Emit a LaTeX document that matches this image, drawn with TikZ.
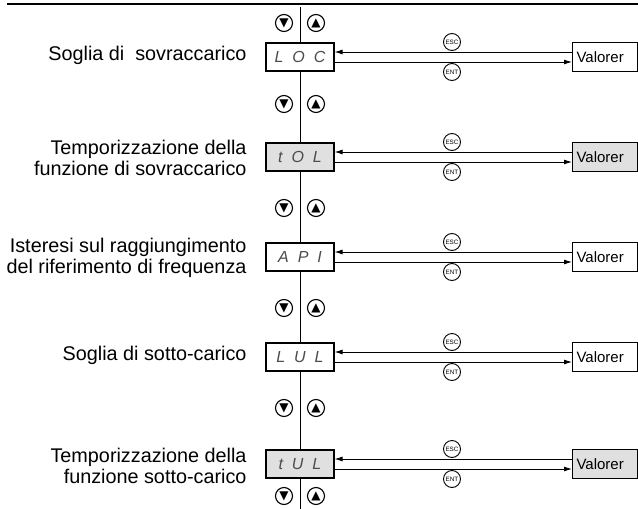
\documentclass[tikz,border=0pt]{standalone}
\usepackage{fontspec}
\setmainfont{Liberation Sans}
\newfontfamily\segfont{Liberation Sans}
\newfontfamily\symfont{DejaVu Sans}
\usetikzlibrary{arrows.meta, positioning}

\begin{document}
\begin{tikzpicture}[x=1pt, y=-1pt,
    disp/.style={rectangle, draw, line width=1.1pt, fill=white,
                 minimum width=68pt, minimum height=28pt, inner sep=0pt,
                 font=\segfont\itshape\fontsize{16}{16}\selectfont, text=black!70},
    dispg/.style={disp, fill=black!12},
    val/.style={rectangle, draw, line width=1.1pt, fill=white, anchor=west,
                minimum width=65pt, minimum height=29pt, inner xsep=4pt, inner ysep=0pt,
                text width=57pt, align=left, font=\fontsize{15}{15}\selectfont},
    valg/.style={val, fill=black!12},
    lbl/.style={anchor=east, align=right, font=\fontsize{19.8}{21}\selectfont},
    btn/.style={circle, draw, line width=1.1pt, minimum size=17pt, inner sep=0pt,
                font=\symfont\fontsize{12}{12}\selectfont},
    key/.style={circle, draw, line width=0.9pt, minimum size=17pt, inner sep=0pt,
                font=\fontsize{6.3}{6.3}\selectfont},
    arr/.style={-{Latex[length=8pt, width=5pt]}, line width=0.9pt}]

    \useasboundingbox (0,0) rectangle (638,509);

    % top rule and menu spine
    \coordinate (rl) at (7,4);  \coordinate (rr) at (638,4);
    \draw[line width=2.5pt] (rl) -- (rr);
    \coordinate (top) at (300,7); \coordinate (bot) at (300,509);
    \draw[line width=1pt] (top) -- (bot);

    % parameter displays
    \node[disp]  (d1) at (300,57)  {L\ \ O\ \ C};
    \node[dispg] (d2) at (300,157) {t\ \ O\ \ L};
    \node[disp]  (d3) at (300,257) {A\ \ P\ \ I};
    \node[disp]  (d4) at (300,357) {L\ \ U\ \ L};
    \node[dispg] (d5) at (300,464) {t\ \ U\ \ L};

    % value boxes
    \node[val]  (v1) at (572,57)  {Valorer};
    \node[valg] (v2) at (572,157) {Valorer};
    \node[val]  (v3) at (572,257) {Valorer};
    \node[val]  (v4) at (572,357) {Valorer};
    \node[valg] (v5) at (572,464) {Valorer};

    % labels
    \node[lbl] (l1) at (250,55)  {Soglia di\ \ sovraccarico};
    \node[lbl] (l2) at (250,158) {Temporizzazione della\\funzione di sovraccarico};
    \node[lbl] (l3) at (250,258) {Isteresi sul raggiungimento\\del riferimento di frequenza};
    \node[lbl] (l4) at (250,355) {Soglia di sotto-carico};
    \node[lbl] (l5) at (250,466) {Temporizzazione della\\funzione sotto-carico};

    % arrow keys
    \node[btn] (dn0) at (284,23)  {▼}; \node[btn] (up0) at (316,23)  {▲};
    \node[btn] (dn1) at (284,104) {▼}; \node[btn] (up1) at (316,104) {▲};
    \node[btn] (dn2) at (284,208) {▼}; \node[btn] (up2) at (316,208) {▲};
    \node[btn] (dn3) at (284,308) {▼}; \node[btn] (up3) at (316,308) {▲};
    \node[btn] (dn4) at (284,408) {▼}; \node[btn] (up4) at (316,408) {▲};
    \node[btn] (dn5) at (284,496) {▼}; \node[btn] (up5) at (316,496) {▲};

    % ESC / ENT keys
    \node[key] (esc1) at (452,42)  {ESC}; \node[key] (ent1) at (452,72)  {ENT};
    \node[key] (esc2) at (452,142) {ESC}; \node[key] (ent2) at (452,172) {ENT};
    \node[key] (esc3) at (452,242) {ESC}; \node[key] (ent3) at (452,272) {ENT};
    \node[key] (esc4) at (452,342) {ESC}; \node[key] (ent4) at (452,372) {ENT};
    \node[key] (esc5) at (452,449) {ESC}; \node[key] (ent5) at (452,479) {ENT};

    \draw[arr] ([yshift=5pt]v1.west) -- ([yshift=5pt]d1.east);
    \draw[arr] ([yshift=-5pt]d1.east) -- ([yshift=-5pt]v1.west);
    \draw[arr] ([yshift=5pt]v2.west) -- ([yshift=5pt]d2.east);
    \draw[arr] ([yshift=-5pt]d2.east) -- ([yshift=-5pt]v2.west);
    \draw[arr] ([yshift=5pt]v3.west) -- ([yshift=5pt]d3.east);
    \draw[arr] ([yshift=-5pt]d3.east) -- ([yshift=-5pt]v3.west);
    \draw[arr] ([yshift=5pt]v4.west) -- ([yshift=5pt]d4.east);
    \draw[arr] ([yshift=-5pt]d4.east) -- ([yshift=-5pt]v4.west);
    \draw[arr] ([yshift=5pt]v5.west) -- ([yshift=5pt]d5.east);
    \draw[arr] ([yshift=-5pt]d5.east) -- ([yshift=-5pt]v5.west);
\end{tikzpicture}
\end{document}
